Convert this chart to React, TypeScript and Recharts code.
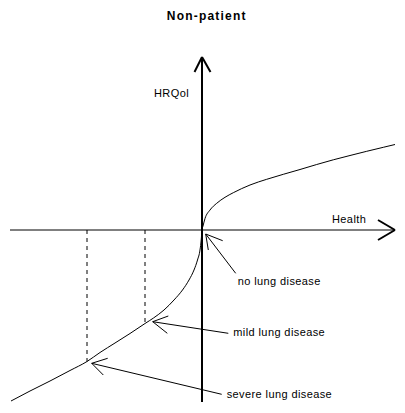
import React from "react";
import { LineChart, Line, XAxis, YAxis, ReferenceLine, ReferenceDot } from "recharts";

// Curve: Health (x) vs HRQol (y)
const healthValues = [
  -191, -172, -152, -132, -115, -102, -87, -72, -57, -48.5, -38, -28, -19.5, -13, -8, -4.5, -2, -0.8, 0,
  1, 3, 8, 14.7, 23, 31.3, 48, 64.7, 81.3, 98, 114.7, 131.3, 148, 164.7, 181.3, 193,
];
const hrqolValues = [
  -171, -161, -151, -140.5, -131.5, -122.5, -113, -103.5, -93.5, -88, -80, -70, -60, -50, -40, -30, -20, -10, 0,
  4, 11.5, 20, 26.7, 32.7, 37.3, 45, 50.7, 55.7, 60.5, 65.5, 70.2, 74.5, 78.7, 82.7, 85.5,
];

// Axis domains (data units)
const xDomain = [-202, 203];
const yDomain = [-183, 230];

// Drawn axes with arrowheads
const axisSegments = [
  { x1: -192, y1: 0, x2: 193, y2: 0, w: 1 },
  { x1: 0, y1: -172, x2: 0, y2: 173, w: 2 },
  { x1: 0, y1: 173, x2: -7.5, y2: 158, w: 2 },
  { x1: 0, y1: 173, x2: 8.5, y2: 158, w: 2 },
  { x1: 193, y1: 0, x2: 176, y2: 10, w: 2 },
  { x1: 193, y1: 0, x2: 176, y2: -10, w: 2 },
];

// Dashed drop lines for mild and severe disease
const dropX = [-57, -115];
const dropY = [-93.5, -131.5];

// Annotation arrows: tip, tail, two barbs
const arrowTips = [
  { x: 3.7, y: -4 },
  { x: -49.3, y: -91.7 },
  { x: -110.3, y: -133.3 },
];
const arrowTails = [
  { x: 33.7, y: -43.3 },
  { x: 26.3, y: -103.3 },
  { x: 19.7, y: -164.3 },
];
const arrowBarbsA = [
  { x: 20.7, y: -10.7 },
  { x: -33.7, y: -86 },
  { x: -94.3, y: -128.3 },
];
const arrowBarbsB = [
  { x: 6.3, y: -20 },
  { x: -34.7, y: -103.3 },
  { x: -98.7, y: -145 },
];

// Text labels
const labelTexts = ["no lung disease", "mild lung disease", "severe lung disease", "Health", "HRQol"];
const labelX = [35.7, 31.3, 24.7, 130, -48];
const labelY = [-55, -105.7, -168, 7, 132.7];
const titleText = "Non-patient";
const titlePos = { x: 4.7, y: 210.5 };

const curveData = healthValues.map((h, i) => ({ x: h, y: hrqolValues[i] }));

const FONT = "'Liberation Sans', Arial, Helvetica, sans-serif";

function TextLabel(props: any) {
  const { viewBox, text, anchor, bold, size, spacing } = props;
  const x = viewBox.x + viewBox.width / 2;
  const y = viewBox.y + viewBox.height / 2;
  return (
    <text
      x={x}
      y={y}
      textAnchor={anchor}
      fontFamily={FONT}
      fontSize={size}
      fontWeight={bold ? "bold" : "normal"}
      letterSpacing={spacing}
      fill="#000"
    >
      {text}
    </text>
  );
}

const emptyShape = () => <g />;

export default function App() {
  return (
    <div style={{ position: "absolute", left: 0, top: 0, width: 405, height: 413, background: "#fff" }}>
      <LineChart width={405} height={413} data={curveData} margin={{ top: 0, right: 0, bottom: 0, left: 0 }}>
        <XAxis type="number" dataKey="x" domain={xDomain} allowDataOverflow hide />
        <YAxis type="number" dataKey="y" domain={yDomain} allowDataOverflow hide />
        {axisSegments.map((s, i) => (
          <ReferenceLine
            key={"ax" + i}
            segment={[{ x: s.x1, y: s.y1 }, { x: s.x2, y: s.y2 }]}
            stroke="#000"
            strokeWidth={s.w}
            ifOverflow="visible"
          />
        ))}
        {dropX.map((dx, i) => (
          <ReferenceLine
            key={"dr" + i}
            segment={[{ x: dx, y: 0 }, { x: dx, y: dropY[i] }]}
            stroke="#000"
            strokeWidth={1}
            strokeDasharray="4 4"
            ifOverflow="visible"
          />
        ))}
        {arrowTips.map((t, i) => (
          <ReferenceLine
            key={"at" + i}
            segment={[arrowTails[i], t]}
            stroke="#000"
            strokeWidth={1}
            ifOverflow="visible"
          />
        ))}
        {arrowTips.map((t, i) => (
          <ReferenceLine
            key={"ba" + i}
            segment={[t, arrowBarbsA[i]]}
            stroke="#000"
            strokeWidth={1}
            ifOverflow="visible"
          />
        ))}
        {arrowTips.map((t, i) => (
          <ReferenceLine
            key={"bb" + i}
            segment={[t, arrowBarbsB[i]]}
            stroke="#000"
            strokeWidth={1}
            ifOverflow="visible"
          />
        ))}
        <Line
          type="monotone"
          dataKey="y"
          stroke="#000"
          strokeWidth={1}
          dot={false}
          activeDot={false}
          isAnimationActive={false}
        />
        {labelTexts.map((t, i) => (
          <ReferenceDot
            key={"lb" + i}
            x={labelX[i]}
            y={labelY[i]}
            r={1}
            ifOverflow="visible"
            shape={emptyShape}
            label={<TextLabel text={t} anchor="start" size={11} spacing={0.4} />}
          />
        ))}
        <ReferenceDot
          x={titlePos.x}
          y={titlePos.y}
          r={1}
          ifOverflow="visible"
          shape={emptyShape}
          label={<TextLabel text={titleText} anchor="middle" size={12} bold spacing={1.2} />}
        />
      </LineChart>
    </div>
  );
}
